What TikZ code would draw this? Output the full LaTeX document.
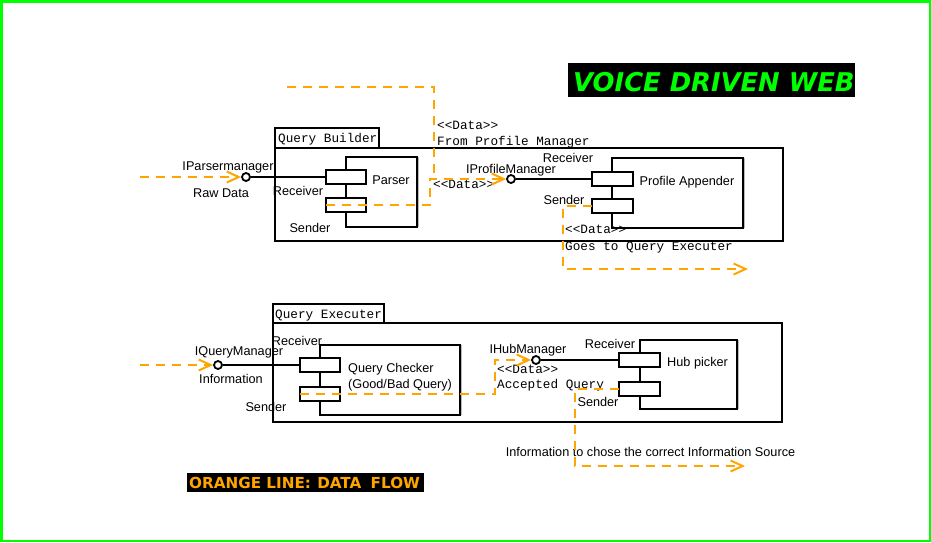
\documentclass[tikz,border=0pt]{standalone}
\usepackage{fontspec}
\setmainfont{Liberation Sans}
\newfontfamily\monofont{Liberation Mono}
\newfontfamily\legendfont{DejaVu Sans}
\usetikzlibrary{arrows.meta}
\definecolor{flow}{RGB}{255,165,0}
\definecolor{neon}{RGB}{0,255,0}
\tikzset{
  box/.style={draw=black, line width=2pt, fill=white, inner sep=0pt, outer sep=0pt, anchor=north west},
  port/.style={box, minimum width=40pt, minimum height=14pt},
  lolli/.style={circle, draw=black, line width=1.8pt, fill=white, minimum size=8pt, inner sep=0pt},
  wire/.style={draw=black, line width=2pt},
  shadowline/.style={draw=gray!55, line width=1pt},
  flowline/.style={draw=flow, line width=2pt, dash pattern=on 9pt off 7pt},
  flowarrow/.style={flowline, -{Straight Barb[length=12pt, width=11pt, line width=2pt]}},
  lbl/.style={font=\fontsize{12.7}{14}\selectfont, inner sep=0pt, anchor=base},
  lblw/.style={lbl, anchor=base west},
  mono/.style={font=\monofont\fontsize{12.7}{14}\selectfont, inner sep=0pt, anchor=base west},
}
\begin{document}
\begin{tikzpicture}[x=1pt,y=-1pt]
\useasboundingbox (0,0) rectangle (931,542);
\draw[neon, line width=2.5pt] (1.25,1.25) rectangle (929.75,540.75);

% title
\node[fill=black, anchor=north west, minimum width=287pt, minimum height=34pt, inner sep=0pt] (titlebox) at (568,63) {};
\node[anchor=base west, inner sep=0pt, text=neon, font=\legendfont\bfseries\itshape\fontsize{25.8}{30}\selectfont] (title) at (573,91) {VOICE DRIVEN WEB};

% legend
\node[fill=black, anchor=north west, minimum width=237pt, minimum height=19pt, inner sep=0pt] (legendbox) at (187,473) {};
\node[anchor=base west, inner sep=0pt, text=flow, font=\legendfont\bfseries\fontsize{15.2}{17}\selectfont] (legend) at (189,488.5) {ORANGE LINE:\hspace{1pt} DATA\hspace{4pt} FLOW};

% ---------- Query Builder ----------
\node[box, minimum width=104pt, minimum height=20pt] (qbtab) at (275,128) {};
\node[box, minimum width=508pt, minimum height=93pt] (qb) at (275,148) {};
\node[mono] (qbname) at (278,142.3) {Query Builder};

\node[box, minimum width=71pt, minimum height=70pt] (parser) at (346,157) {};
\draw[shadowline] ([xshift=1.8pt]parser.north east) -- ([xshift=1.8pt]parser.south east);
\node[port] (parserRx) at (326,170) {};
\node[port] (parserTx) at (326,198) {};
\node[lolli] (ipm) at (246,177) {};
\draw[wire] (ipm) -- (parserRx);
\node[lbl] (ipmlbl) at (228,170) {IParsermanager};
\node[lbl] (rawlbl) at (221,197) {Raw Data};
\node[lbl] (parserRxlbl) at (298,195) {Receiver};
\node[lbl] (parserTxlbl) at (310,232.7) {Sender};
\node[lbl] (parserlbl) at (391,184) {Parser};

\node[box, minimum width=131pt, minimum height=70pt] (pa) at (612,158) {};
\draw[shadowline] ([xshift=1.8pt]pa.north east) -- ([xshift=1.8pt]pa.south east);
\node[port, minimum width=41pt] (paRx) at (592,172) {};
\node[port, minimum width=41pt] (paTx) at (592,199) {};
\node[lolli] (iprof) at (511,179) {};
\draw[wire] (iprof) -- (paRx);
\node[lbl] (iproflbl) at (511,173) {IProfileManager};
\node[lbl] (paRxlbl) at (568,162) {Receiver};
\node[lbl] (paTxlbl) at (564,204) {Sender};
\node[lbl] (palbl) at (687,185) {Profile Appender};

\node[mono] (d1) at (437,129) {<{}<Data>{}>};
\node[mono] (d1b) at (437,145) {From Profile Manager};
\node[mono] (d2) at (433,188.3) {<{}<Data>{}>};
\node[mono] (d3) at (565,233.3) {<{}<Data>{}>};
\node[mono] (d3b) at (565,250) {Goes to Query Executer};

% flows of Query Builder
\coordinate (rawin) at (140,177);
\draw[flowarrow] (rawin) -- (ipm);
\coordinate (pmsrc) at (287,87);
\coordinate (pmturn) at (434,87);
\coordinate (pmjoin) at (434,179);
\draw[flowline] (pmsrc) -- (pmturn) -- (pmjoin);
\coordinate (qbout1) at (430,205);
\coordinate (qbout2) at (430,179);
\draw[flowarrow] (parserTx.west) -- (qbout1) -- (qbout2) -- (iprof);
\coordinate (paout1) at (563,206);
\coordinate (paout2) at (563,269);
\coordinate (paout3) at (748,269);
\draw[flowarrow] (paTx.west) -- (paout1) -- (paout2) -- (paout3);

% ---------- Query Executer ----------
\node[box, minimum width=111pt, minimum height=19pt] (qetab) at (273,304) {};
\node[box, minimum width=509pt, minimum height=99pt] (qe) at (273,323) {};
\node[mono] (qename) at (275,318) {Query Executer};

\node[box, minimum width=140pt, minimum height=70pt] (qc) at (320,345) {};
\draw[shadowline] ([xshift=1.8pt]qc.north east) -- ([xshift=1.8pt]qc.south east);
\node[port] (qcRx) at (300,358) {};
\node[port] (qcTx) at (300,387) {};
\node[lolli] (iqm) at (218,365) {};
\draw[wire] (iqm) -- (qcRx);
\node[lbl] (iqmlbl) at (239,355) {IQueryManager};
\node[lbl] (infolbl) at (231,383) {Information};
\node[lbl] (qcRxlbl) at (297,345) {Receiver};
\node[lbl] (qcTxlbl) at (266,411.7) {Sender};
\node[lblw] (qclbl) at (348,372) {Query Checker};
\node[lblw] (qclbl2) at (348,388) {(Good/Bad Query)};

\node[box, minimum width=97pt, minimum height=69pt] (hp) at (640,340) {};
\draw[shadowline] ([xshift=1.8pt]hp.north east) -- ([xshift=1.8pt]hp.south east);
\node[port, minimum width=41pt] (hpRx) at (619,353) {};
\node[port, minimum width=41pt] (hpTx) at (619,382) {};
\node[lolli] (ihub) at (536,360) {};
\draw[wire] (ihub) -- (hpRx);
\node[lbl] (ihublbl) at (528,353) {IHubManager};
\node[lbl] (hpRxlbl) at (610,348) {Receiver};
\node[lbl] (hpTxlbl) at (598,406.7) {Sender};
\node[lblw] (hplbl) at (667,366) {Hub picker};

\node[mono] (d4) at (497,373) {<{}<Data>{}>};
\node[mono] (d4b) at (497,388) {Accepted Query};
\node[lbl] (srclbl) at (650.5,456.7) {Information to chose the correct Information Source};

\coordinate (infoin) at (140,365);
\draw[flowarrow] (infoin) -- (iqm);
\coordinate (qcout1) at (495,394);
\coordinate (qcout2) at (495,360);
\draw[flowarrow] (qcTx.west) -- (qcout1) -- (qcout2) -- (ihub);
\coordinate (hpout1) at (575,389);
\coordinate (hpout2) at (575,466);
\coordinate (hpout3) at (745,466);
\draw[flowarrow] (hpTx.west) -- (hpout1) -- (hpout2) -- (hpout3);
\end{tikzpicture}
\end{document}
